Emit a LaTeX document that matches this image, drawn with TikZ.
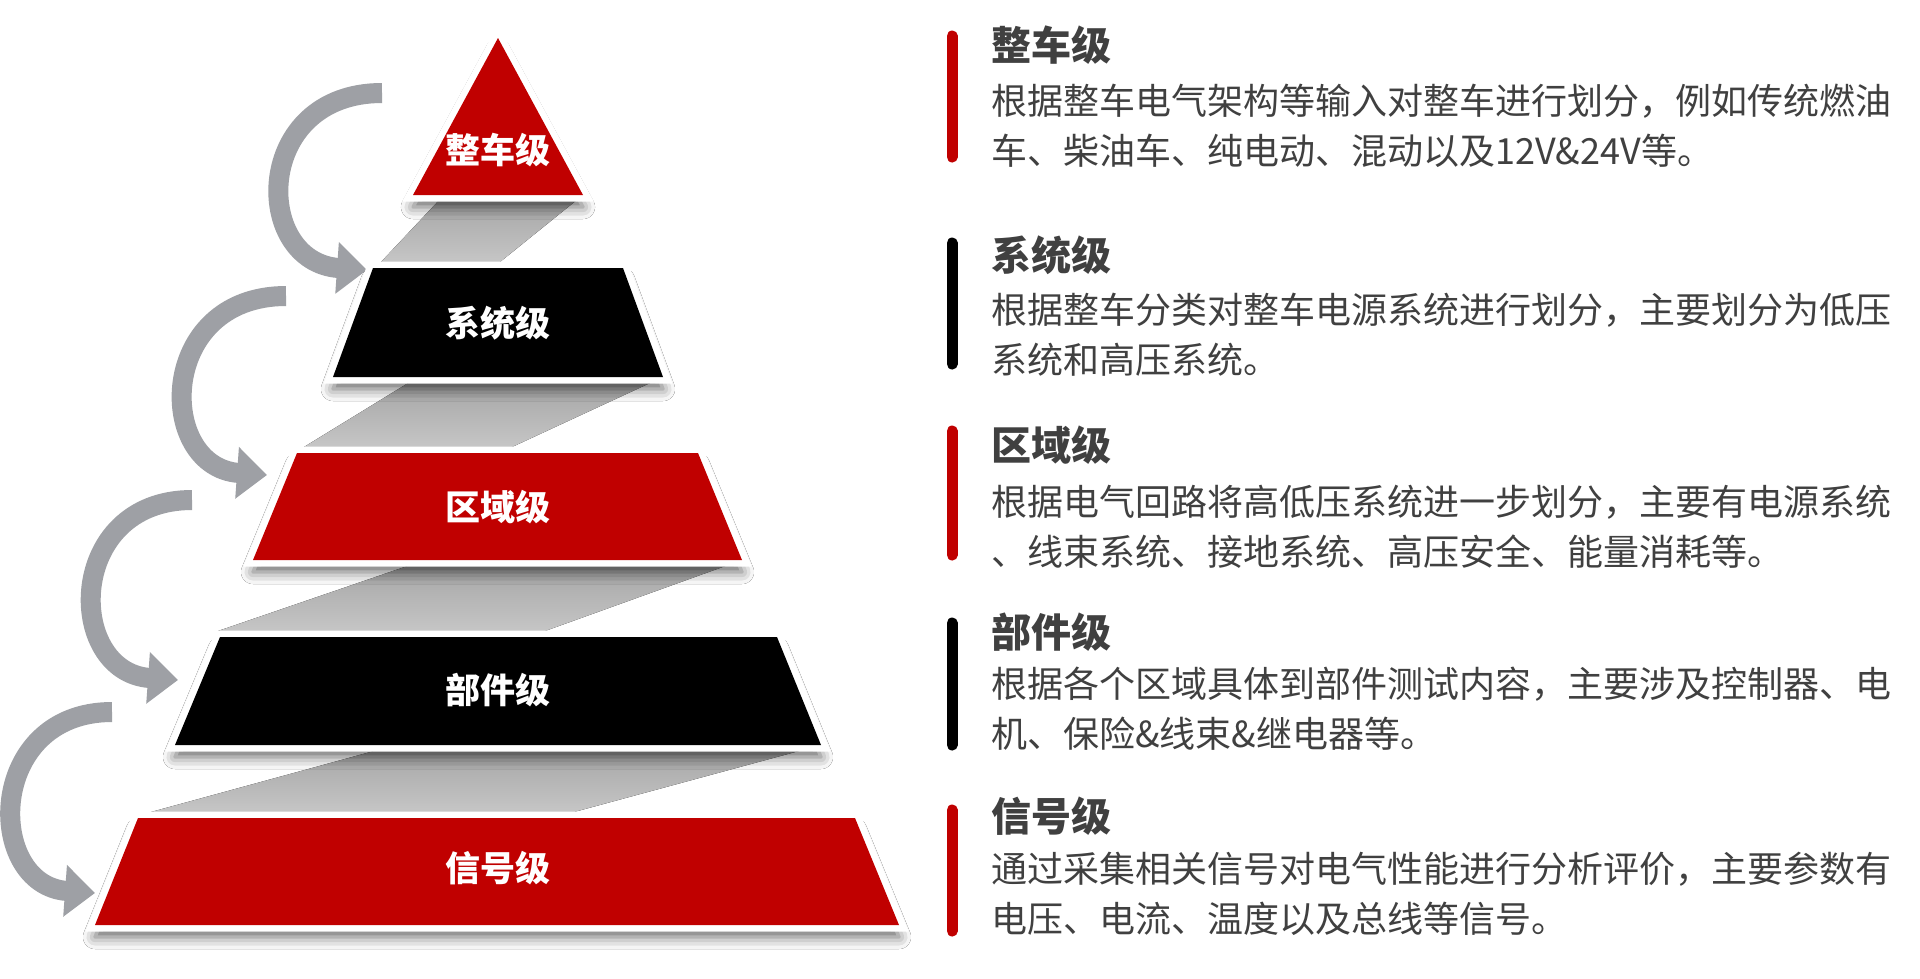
\documentclass[tikz,border=0pt]{standalone}
\usepackage{fontspec}
\setmainfont{Noto Sans CJK SC}
\usetikzlibrary{arrows.meta,shadows.blur}
\definecolor{lvred}{RGB}{192,0,0}
\definecolor{txtgray}{RGB}{64,64,64}
\definecolor{arrgray}{RGB}{158,160,165}

\begin{document}
\begin{tikzpicture}[x=1pt, y=-1pt,
  layer/.style = {preaction={draw=white, line width=13pt, line join=miter,
      blur shadow={shadow xshift=0pt, shadow yshift=-12pt, shadow blur radius=12pt, shadow opacity=60}}},
  ribbon/.style = {top color=gray!72, bottom color=gray!45},
  lvlabel/.style = {text=white, inner sep=0pt, font=\fontsize{35}{40}\selectfont\bfseries},
  turn/.style = {draw=arrgray, line width=20pt, -{Triangle[length=30pt, width=50pt]}},
  bar/.style = {line width=11pt, line cap=round},
  head/.style = {anchor=west, text=txtgray, inner sep=0pt, font=\fontsize{40}{44}\selectfont\bfseries},
  body/.style = {anchor=west, text=txtgray, inner sep=0pt, align=left, font=\fontsize{36}{50}\selectfont}]

  \path[use as bounding box, fill=white] (0,0) rectangle (1920,978);

  % grey ribbons behind the levels
  \fill[ribbon] (444,195) -- (583,195) -- (500,262) -- (381,262) -- cycle;
  \fill[ribbon] (418,377) -- (663,377) -- (512,447) -- (304,447) -- cycle;
  \fill[ribbon] (425,560) -- (742,560) -- (545,631) -- (218,631) -- cycle;
  \fill[ribbon] (396,745) -- (821,745) -- (574,812) -- (151,812) -- cycle;

  % turning arrows
  \coordinate (a1) at (382,93);  \coordinate (t1) at (367,270);
  \coordinate (a2) at (286,296); \coordinate (t2) at (267,475);
  \coordinate (a3) at (192,500); \coordinate (t3) at (178,680);
  \coordinate (a4) at (112,712); \coordinate (t4) at (95,893);
  \draw[turn] (a1) .. controls (252,93) and (252,262) .. (t1);
  \draw[turn] (a2) .. controls (156,296) and (156,467) .. (t2);
  \draw[turn] (a3) .. controls (65,500) and (65,672) .. (t3);
  \draw[turn] (a4) .. controls (-15,712) and (-15,885) .. (t4);

  % levels
  \fill[layer, lvred] (498,38) -- (583,195) -- (413,195) -- cycle;
  \node[lvlabel] (whole) at (498,150) {整车级};
  \fill[layer, black] (373,268) -- (623,268) -- (663,377) -- (333,377) -- cycle;
  \node[lvlabel] (sys) at (498,323) {系统级};
  \fill[layer, lvred] (297,453) -- (698,453) -- (742,560) -- (253,560) -- cycle;
  \node[lvlabel] (zone) at (498,507) {区域级};
  \fill[layer, black] (220,637) -- (777,637) -- (821,745) -- (175,745) -- cycle;
  \node[lvlabel] (part) at (498,690) {部件级};
  \fill[layer, lvred] (138,818) -- (855,818) -- (899,925) -- (95,925) -- cycle;
  \node[lvlabel] (sig) at (498,868) {信号级};

  % descriptions
  \draw[bar, lvred] (952,36) -- (952,157);
  \node[head] (h1) at (991,45) {整车级};
  \node[body] (d1) at (991,126) {根据整车电气架构等输入对整车进行划分，例如传统燃油\\车、柴油车、纯电动、混动以及12V\&24V等。};

  \draw[bar, black] (952,243) -- (952,364);
  \node[head] (h2) at (991,255) {系统级};
  \node[body] (d2) at (991,335) {根据整车分类对整车电源系统进行划分，主要划分为低压\\系统和高压系统。};

  \draw[bar, lvred] (952,431) -- (952,555);
  \node[head] (h3) at (991,445) {区域级};
  \node[body] (d3) at (991,527) {根据电气回路将高低压系统进一步划分，主要有电源系统\\、线束系统、接地系统、高压安全、能量消耗等。};

  \draw[bar, black] (952,623) -- (952,745);
  \node[head] (h4) at (991,632) {部件级};
  \node[body] (d4) at (991,709) {根据各个区域具体到部件测试内容，主要涉及控制器、电\\机、保险\&线束\&继电器等。};

  \draw[bar, lvred] (952,810) -- (952,931);
  \node[head] (h5) at (991,816) {信号级};
  \node[body] (d5) at (991,894) {通过采集相关信号对电气性能进行分析评价，主要参数有\\电压、电流、温度以及总线等信号。};
\end{tikzpicture}
\end{document}
